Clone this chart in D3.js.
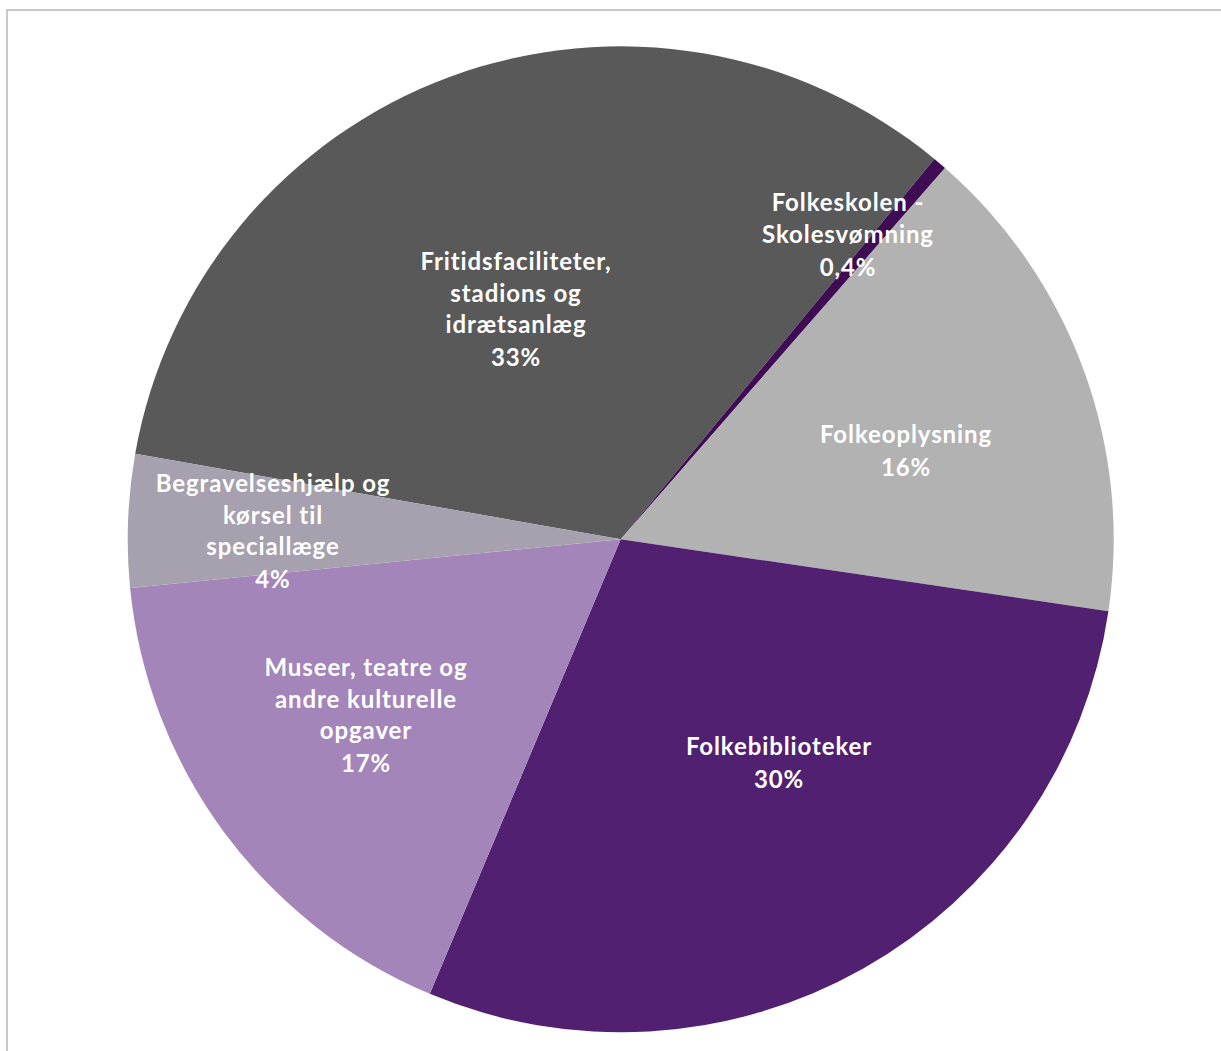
<!DOCTYPE html>
<html>
<head>
<meta charset="utf-8">
<script src="https://cdn.jsdelivr.net/npm/d3@7"></script>
<style>
  html, body { margin: 0; padding: 0; background: #ffffff; }
  svg { display: block; }
</style>
</head>
<body>
<svg id="chart" width="1221" height="1051"></svg>
<script>
// ---- Data ----
const categories = [
  "Fritidsfaciliteter, stadions og idrætsanlæg",
  "Folkeskolen - Skolesvømning",
  "Folkeoplysning",
  "Folkebiblioteker",
  "Museer, teatre og andre kulturelle opgaver",
  "Begravelseshjælp og kørsel til speciallæge"
];
const values = [33.2, 0.45, 15.9, 29.0, 17.1, 4.35];
const percentLabels = ["33%", "0,4%", "16%", "30%", "17%", "4%"];
const labelLines = [
  ["Fritidsfaciliteter,", "stadions og", "idrætsanlæg"],
  ["Folkeskolen -", "Skolesvømning"],
  ["Folkeoplysning"],
  ["Folkebiblioteker"],
  ["Museer, teatre og", "andre kulturelle", "opgaver"],
  ["Begravelseshjælp og", "kørsel til", "speciallæge"]
];
const colors = ["#595959", "#3f0b52", "#b2b2b2", "#522071", "#a385ba", "#a7a0ae"];

// ---- Layout ----
const cx = 620.7, cy = 539.3, radius = 493;
const startDeg = -80.0;
// label anchor (center x, first baseline) per slice
const labelPos = [
  [516, 270], [848, 211], [906, 443], [779, 755], [366, 676], [273, 492]
];
const lineH = 31.5, pctGap = 33;

const svg = d3.select("#chart");

// frame
svg.append("rect")
  .attr("x", 7).attr("y", 10)
  .attr("width", 1240).attr("height", 1080)
  .attr("fill", "none")
  .attr("stroke", "#c8c8c8")
  .attr("stroke-width", 2);

const toRad = d => d * Math.PI / 180;
const pie = d3.pie().sort(null).value(d => d)
  .startAngle(toRad(startDeg)).endAngle(toRad(startDeg + 360));
const arcs = pie(values);
const arc = d3.arc().innerRadius(0).outerRadius(radius);

const g = svg.append("g").attr("transform", `translate(${cx},${cy})`);
g.selectAll("path.slice")
  .data(arcs)
  .join("path")
  .attr("class", "slice")
  .attr("d", arc)
  .attr("fill", (d, i) => colors[i]);

// labels
const lg = svg.append("g")
  .attr("font-family", "Lato, 'Open Sans', sans-serif")
  .attr("font-weight", "bold")
  .attr("font-size", 24)
  .attr("letter-spacing", 0.9)
  .attr("fill", "#ffffff")
  .attr("text-anchor", "middle");

arcs.forEach((a, i) => {
  const [x, y] = labelPos[i];
  const t = lg.append("text").attr("x", x).attr("y", y);
  const lines = labelLines[i];
  lines.forEach((ln, j) => {
    t.append("tspan").attr("x", x).attr("y", y + j * lineH).text(ln);
  });
  t.append("tspan").attr("x", x)
    .attr("y", y + (lines.length - 1) * lineH + pctGap)
    .text(percentLabels[i]);
});
</script>
</body>
</html>
